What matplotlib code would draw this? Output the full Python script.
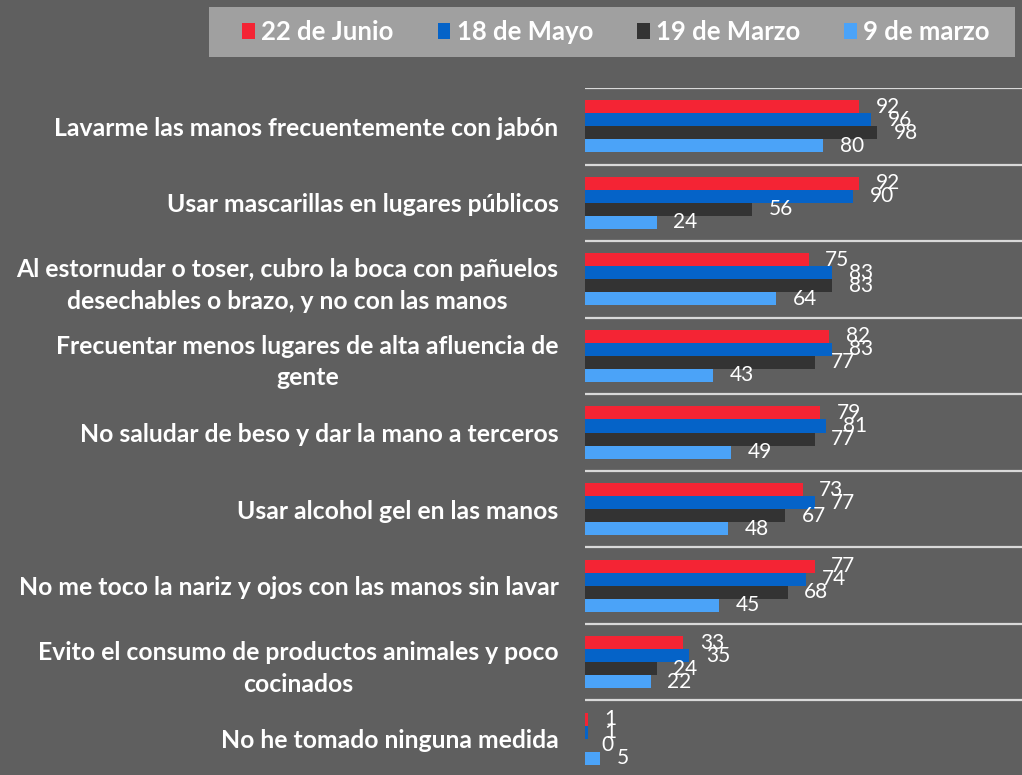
import matplotlib
matplotlib.use("Agg")
import matplotlib.pyplot as plt
import numpy as np
from matplotlib.patches import Patch, Rectangle

plt.rcParams['font.family'] = ['Lato', 'DejaVu Sans']

categories = [
    "Lavarme las manos frecuentemente con jabón",
    "Usar mascarillas en lugares públicos",
    "Al estornudar o toser, cubro la boca con pañuelos\ndesechables o brazo, y no con las manos",
    "Frecuentar menos lugares de alta afluencia de\ngente",
    "No saludar de beso y dar la mano a terceros",
    "Usar alcohol gel en las manos",
    "No me toco la nariz y ojos con las manos sin lavar",
    "Evito el consumo de productos animales y poco\ncocinados",
    "No he tomado ninguna medida",
]
series_names = ["22 de Junio", "18 de Mayo", "19 de Marzo", "9 de marzo"]
junio22 = [92, 92, 75, 82, 79, 73, 77, 33, 1]
mayo18 = [96, 90, 83, 83, 81, 77, 74, 35, 1]
marzo19 = [98, 56, 83, 77, 77, 67, 68, 24, 0]
marzo9 = [80, 24, 64, 43, 49, 48, 45, 22, 5]
series = [junio22, mayo18, marzo19, marzo9]
colors = ["#F42434", "#0563C8", "#333333", "#4BA3F8"]

BG = "#5F5F5F"
W, H = 1022, 775
fig = plt.figure(figsize=(W / 100, H / 100), dpi=100, facecolor=BG)

ax_left, ax_right = 585 / W, 1.0
ax_top, ax_bot = 1 - 88 / H, 1 - 777 / H
ax = fig.add_axes([ax_left, ax_bot, ax_right - ax_left, ax_top - ax_bot])
ax.set_facecolor(BG)

n = len(categories)
h = 0.17
y = np.arange(n) + 0.5
offsets = [-1.5 * h, -0.5 * h, 0.5 * h, 1.5 * h]
for vals, name, col, off in zip(series, series_names, colors, offsets):
    bars = ax.barh(y + off, vals, height=h, color=col, label=name, zorder=3)
    ax.bar_label(bars, labels=[str(v) for v in vals], padding=12,
                 color="white", fontsize=15)

ax.set_ylim(n, 0)
ax.set_xlim(0, 146.6)
for k in range(n + 1):
    ax.axhline(k, color="#D9D9D9", lw=1.6, zorder=2)

ax.set_yticks(y)
ax.set_yticklabels(categories, color="white", fontsize=17.8, fontweight="bold")
for lab in ax.get_yticklabels():
    lab.set_multialignment("center")
    lab.set_linespacing(1.45)
ax.tick_params(axis="y", length=0, pad=19)
ax.set_xticks([])
for s in ax.spines.values():
    s.set_visible(False)

# legend box
box = Rectangle((209 / W, 1 - 57 / H), (1015 - 209) / W, 50 / H,
                transform=fig.transFigure, facecolor="#A0A0A0",
                edgecolor="none", zorder=0)
fig.patches.append(box)
handles = [Patch(facecolor=c, edgecolor="none") for c in colors]
leg = fig.legend(handles, series_names, loc="center",
                 bbox_to_anchor=(616 / W, 1 - 32 / H), ncol=4, frameon=False,
                 handlelength=0.5, handleheight=0.55,
                 handletextpad=0.25, columnspacing=1.7,
                 prop={"weight": "bold", "size": 18.5})
for t in leg.get_texts():
    t.set_color("white")

fig.savefig("out.png", dpi=100, facecolor=BG)
